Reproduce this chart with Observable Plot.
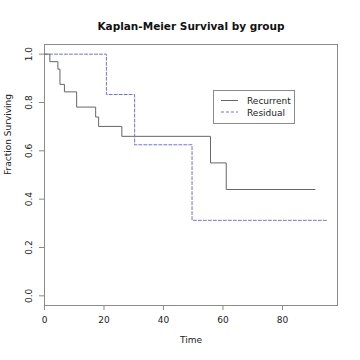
<!DOCTYPE html>
<html>
<head>
<meta charset="utf-8">
<script src="https://cdn.jsdelivr.net/npm/d3@7"></script>
<script src="https://cdn.jsdelivr.net/npm/@observablehq/plot@0.6"></script>
<style>
  html, body { margin: 0; padding: 0; background: #fff; }
  svg { font-family: "DejaVu Sans", sans-serif; }
</style>
</head>
<body>
<div id="chart"></div>
<script>
// ---- data ----
const title = "Kaplan-Meier Survival by group";
const xLabel = "Time";
const yLabel = "Fraction Surviving";
const groups = ["Recurrent", "Residual"];
const recurrentTime = [0, 1.8, 4.5, 5.2, 6.7, 10.8, 17.2, 18.2, 26.0, 55.8, 61.1, 91.0];
const recurrentSurv = [1.0, 0.969, 0.938, 0.875, 0.844, 0.781, 0.740, 0.701, 0.660, 0.550, 0.440, 0.440];
const residualTime = [0, 20.8, 30.3, 49.6, 95.0];
const residualSurv = [1.0, 0.833, 0.625, 0.3125, 0.3125];
const xTicks = [0, 20, 40, 60, 80];
const yTicks = [0, 0.2, 0.4, 0.6, 0.8, 1.0];

// ---- build table ----
const rows = [];
recurrentTime.forEach((t, i) => rows.push({group: groups[0], time: t, surv: recurrentSurv[i]}));
residualTime.forEach((t, i) => rows.push({group: groups[1], time: t, surv: residualSurv[i]}));

const colors = {Recurrent: "#666666", Residual: "#7070e6"};
const dashes = {Recurrent: null, Residual: "3,2"};

const chart = Plot.plot({
  width: 360,
  height: 360,
  marginLeft: 44,
  marginRight: 23,
  marginTop: 44,
  marginBottom: 55,
  style: {fontFamily: "DejaVu Sans, sans-serif", fontSize: "9px", color: "#222", background: "#fff"},
  x: {domain: [0, 98.5]},
  y: {domain: [-0.04, 1.04]},
  marks: [
    Plot.frame({stroke: "#8a8a8a"}),
    Plot.axisX({ticks: xTicks, tickSize: 5, tickPadding: 6, fontSize: 9, label: null, stroke: "#8a8a8a"}),
    Plot.axisY({ticks: yTicks, tickSize: 5, tickFormat: () => "", label: null, stroke: "#8a8a8a"}),
    Plot.text(yTicks, {y: d => d, frameAnchor: "left", text: d => d.toFixed(1), rotate: -90, dx: -15, fontSize: 9, textAnchor: "middle", fill: "#222"}),
    ...groups.map(g => Plot.line(rows.filter(r => r.group === g), {
      x: "time", y: "surv", curve: "step-after",
      stroke: colors[g], strokeWidth: 1, strokeDasharray: dashes[g]
    })),
    Plot.text([title], {frameAnchor: "top", dy: -22, fontSize: 10.5, fontWeight: "bold", fill: "#111"}),
    Plot.text([xLabel], {frameAnchor: "bottom", dy: 37, fontSize: 9, fill: "#222"}),
    Plot.text([yLabel], {frameAnchor: "left", dx: -36, rotate: -90, fontSize: 9, fill: "#222"})
  ]
});
document.getElementById("chart").appendChild(chart);

// ---- legend ----
const svg = d3.select(chart);
const lg = svg.append("g").attr("font-family", "DejaVu Sans, sans-serif").attr("font-size", 9)
  .attr("text-anchor", "start");
lg.append("rect").attr("x", 213.5).attr("y", 90.5).attr("width", 81).attr("height", 33)
  .attr("fill", "#fff").attr("stroke", "#8a8a8a");
groups.forEach((g, i) => {
  const y = 100.5 + i * 11.5;
  lg.append("line").attr("x1", 221).attr("x2", 238).attr("y1", y).attr("y2", y)
    .attr("stroke", colors[g]).attr("stroke-width", 1)
    .attr("stroke-dasharray", dashes[g]);
  lg.append("text").attr("x", 247).attr("y", y + 3.5).attr("fill", "#222")
    .attr("text-anchor", "start").text(g);
});
</script>
</body>
</html>
